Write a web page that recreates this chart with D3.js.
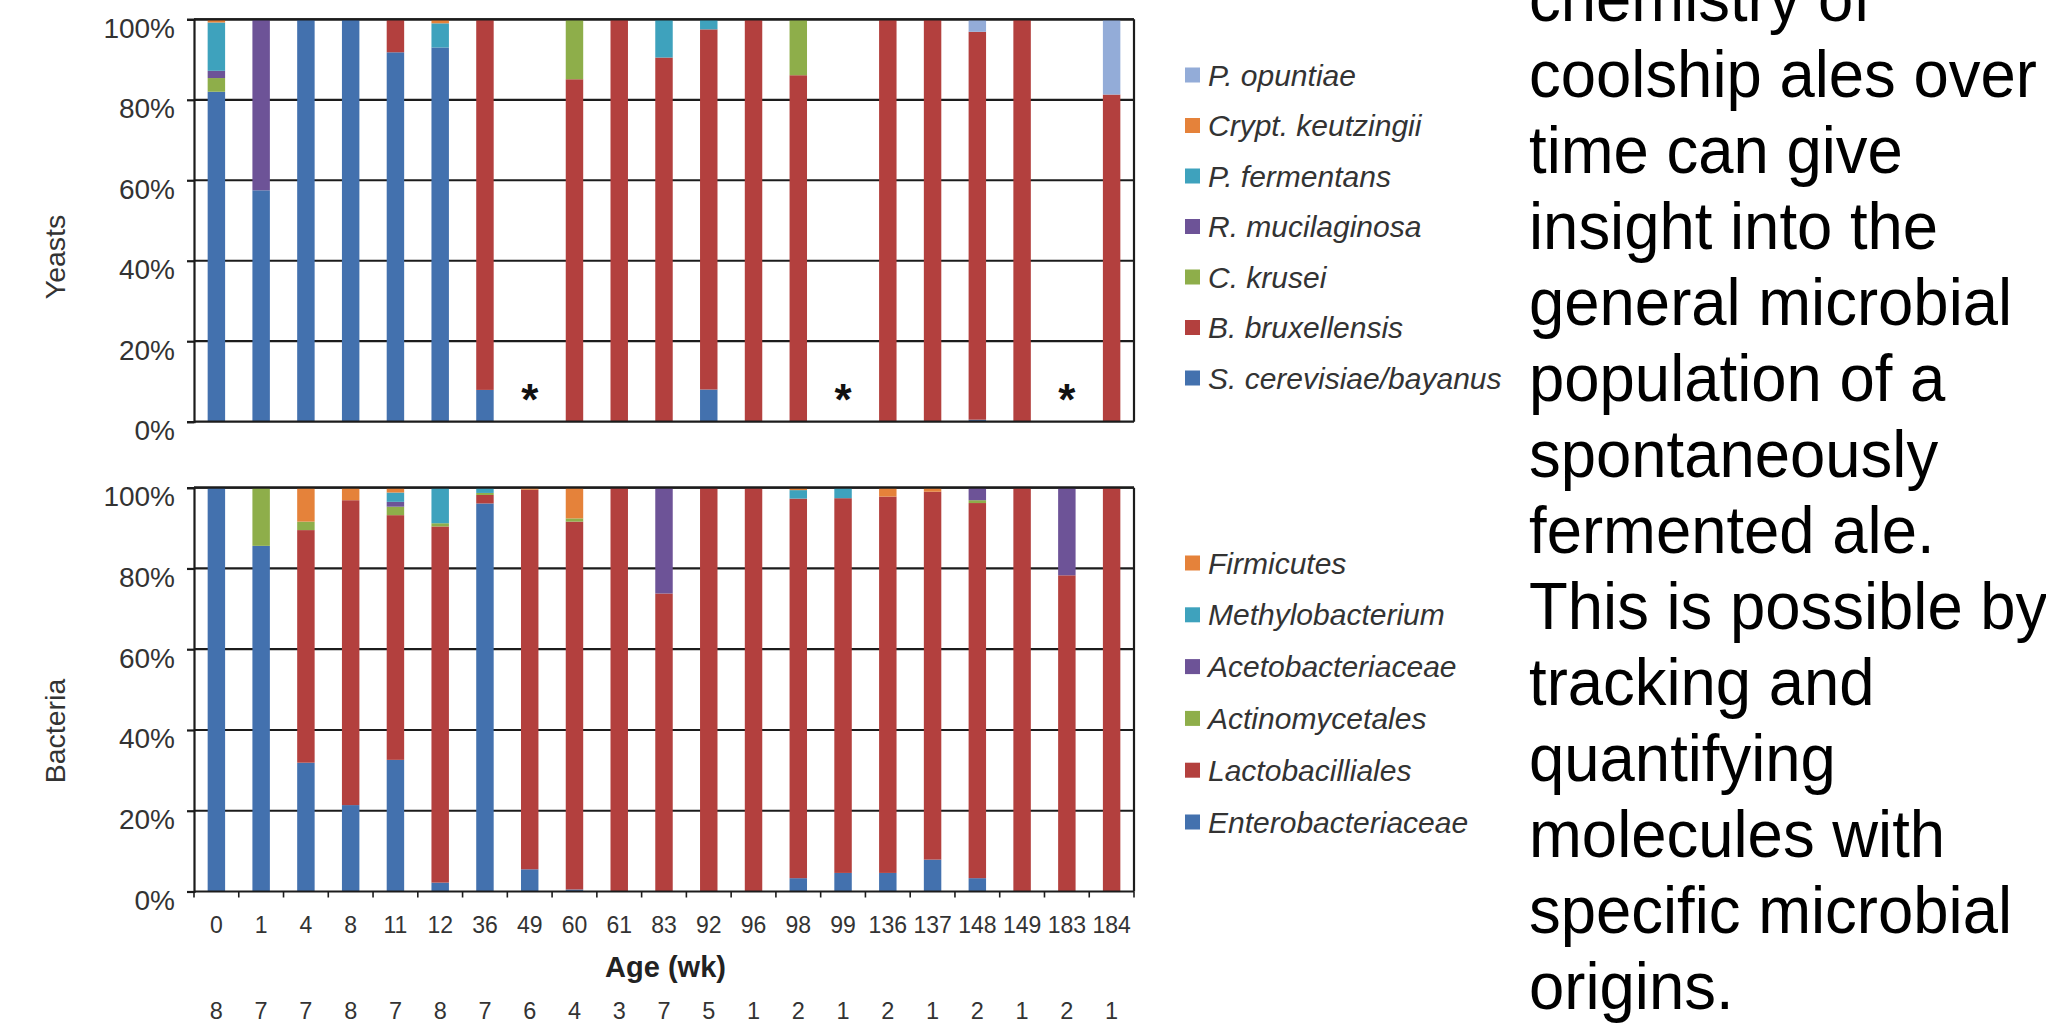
<!DOCTYPE html>
<html>
<head>
<meta charset="utf-8">
<script src="https://cdn.jsdelivr.net/npm/d3@7"></script>
<style>
  html, body { margin: 0; padding: 0; background: #ffffff; }
  svg { display: block; }
  text { font-family: "Liberation Sans", Arial, Helvetica, sans-serif; }
</style>
</head>
<body>
<script>
// ---------------- DATA ----------------
const ages = ["0","1","4","8","11","12","36","49","60","61","83","92","96","98","99","136","137","148","149","183","184"];
const sampleCounts = [8,7,7,8,7,8,7,6,4,3,7,5,1,2,1,2,1,2,1,2,1];
const missingYeast = ["49","99","183"];

// Yeasts (stack order bottom -> top)
const yeastSeries = ["S. cerevisiae/bayanus","B. bruxellensis","C. krusei","R. mucilaginosa","P. fermentans","Crypt. keutzingii","P. opuntiae"];
const yeastCerevisiae  = [82, 57.5, 100, 100, 91.8, 93, 7.9, 0, 0, 0, 0, 8, 0, 0, 0, 0, 0, 0.5, 0, 0, 0];
const yeastBruxellensis= [0, 0, 0, 0, 8.2, 0, 92.1, 0, 85.1, 100, 90.5, 89.5, 100, 86.1, 0, 100, 100, 96.4, 100, 0, 81.3];
const yeastKrusei      = [3.4, 0, 0, 0, 0, 0, 0, 0, 14.9, 0, 0, 0, 0, 13.9, 0, 0, 0, 0, 0, 0, 0];
const yeastMucilaginosa= [1.8, 42.5, 0, 0, 0, 0, 0, 0, 0, 0, 0, 0, 0, 0, 0, 0, 0, 0, 0, 0, 0];
const yeastFermentans  = [12, 0, 0, 0, 0, 6, 0, 0, 0, 0, 9.5, 2.5, 0, 0, 0, 0, 0, 0, 0, 0, 0];
const yeastKeutzingii  = [0.8, 0, 0, 0, 0, 1, 0, 0, 0, 0, 0, 0, 0, 0, 0, 0, 0, 0, 0, 0, 0];
const yeastOpuntiae    = [0, 0, 0, 0, 0, 0, 0, 0, 0, 0, 0, 0, 0, 0, 0, 0, 0, 3.1, 0, 0, 18.7];

// Bacteria (stack order bottom -> top)
const bacteriaSeries = ["Enterobacteriaceae","Lactobacilliales","Actinomycetales","Acetobacteriaceae","Methylobacterium","Firmicutes"];
const bactEntero  = [100, 85.6, 31.9, 21.4, 32.6, 2.2, 96.1, 5.5, 0.5, 0, 0, 0, 0, 3.3, 4.6, 4.6, 7.9, 3.3, 0, 0, 0];
const bactLacto   = [0, 0, 57.6, 75.5, 60.6, 88.2, 2.1, 94.0, 91.1, 100, 73.8, 100, 100, 94.0, 92.8, 93.2, 91.1, 92.9, 100, 78.3, 100];
const bactActino  = [0, 14.4, 2.1, 0, 2.1, 0.8, 0.5, 0, 0.8, 0, 0, 0, 0, 0, 0, 0, 0, 0.7, 0, 0, 0];
const bactAceto   = [0, 0, 0, 0, 1.2, 0, 0, 0, 0, 0, 26.2, 0, 0, 0, 0, 0, 0, 3.1, 0, 21.7, 0];
const bactMethylo = [0, 0, 0, 0, 2.3, 8.8, 1.3, 0, 0, 0, 0, 0, 0, 2.1, 2.6, 0, 0, 0, 0, 0, 0];
const bactFirmi   = [0, 0, 8.4, 3.1, 1.2, 0, 0, 0.5, 7.6, 0, 0, 0, 0, 0.6, 0, 2.2, 1.0, 0, 0, 0, 0];

const yTickValues = [0, 20, 40, 60, 80, 100];

const sideText = ["chemistry of","coolship ales over","time can give","insight into the","general microbial",
  "population of a","spontaneously","fermented ale.","This is possible by","tracking and","quantifying",
  "molecules with","specific microbial","origins."];

// ---------------- STYLE ----------------
const yeastColors    = ["#4371AE","#B3403E","#8EAE4A","#6D5397","#3EA2BD","#E5823A","#93ACD8"];
const bacteriaColors = ["#4371AE","#B3403E","#8EAE4A","#6D5397","#3EA2BD","#E5823A"];
const lineColor = "#1c1c1c";
const textColor = "#333333";

// ---------------- BUILD ----------------
const W = 2046, H = 1024;
const svg = d3.select("body").append("svg").attr("width", W).attr("height", H);
svg.append("rect").attr("width", W).attr("height", H).attr("fill", "#fff");

const left = 194, right = 1134;
const x = d3.scaleBand().domain(ages).range([left, right]).padding(0);
const barW = x.bandwidth() * 0.39;

const yeastRows = ages.map((a, i) => ({
  age: a,
  [yeastSeries[0]]: yeastCerevisiae[i], [yeastSeries[1]]: yeastBruxellensis[i],
  [yeastSeries[2]]: yeastKrusei[i], [yeastSeries[3]]: yeastMucilaginosa[i],
  [yeastSeries[4]]: yeastFermentans[i], [yeastSeries[5]]: yeastKeutzingii[i],
  [yeastSeries[6]]: yeastOpuntiae[i]
}));
const bactRows = ages.map((a, i) => ({
  age: a,
  [bacteriaSeries[0]]: bactEntero[i], [bacteriaSeries[1]]: bactLacto[i],
  [bacteriaSeries[2]]: bactActino[i], [bacteriaSeries[3]]: bactAceto[i],
  [bacteriaSeries[4]]: bactMethylo[i], [bacteriaSeries[5]]: bactFirmi[i]
}));

function panel(cfg) {
  const y = d3.scaleLinear().domain([0, 100]).range([cfg.bottom, cfg.top]);
  const g = svg.append("g");

  // grid lines
  g.append("g").selectAll("line").data(yTickValues.filter(d => d > 0)).join("line")
    .attr("x1", left).attr("x2", right)
    .attr("y1", d => y(d)).attr("y2", d => y(d))
    .attr("stroke", lineColor).attr("stroke-width", 2.2);

  // stacked bars
  const stacked = d3.stack().keys(cfg.keys)(cfg.rows);
  g.append("g").selectAll("g").data(stacked).join("g")
    .attr("fill", (d, i) => cfg.colors[i])
    .selectAll("rect").data(d => d.filter(s => s[1] - s[0] > 0)).join("rect")
    .attr("x", d => x(d.data.age) + (x.bandwidth() - barW) / 2)
    .attr("width", barW)
    .attr("y", d => y(d[1]))
    .attr("height", d => y(d[0]) - y(d[1]));

  // right border, bottom & top lines
  g.append("line").attr("x1", right).attr("x2", right).attr("y1", cfg.top).attr("y2", cfg.bottom)
    .attr("stroke", lineColor).attr("stroke-width", 2.2);
  g.append("line").attr("x1", left).attr("x2", right).attr("y1", y(0)).attr("y2", y(0))
    .attr("stroke", lineColor).attr("stroke-width", 2.2);
  g.append("line").attr("x1", left).attr("x2", right).attr("y1", y(100)).attr("y2", y(100))
    .attr("stroke", lineColor).attr("stroke-width", 2.2);

  // y axis
  const ax = g.append("g").attr("transform", `translate(${left},0)`)
    .call(d3.axisLeft(y).tickValues(yTickValues).tickFormat(d => d + "%").tickSize(7).tickPadding(12));
  ax.select(".domain").attr("stroke", lineColor).attr("stroke-width", 2.2);
  ax.selectAll(".tick line").attr("stroke", lineColor).attr("stroke-width", 2.2);
  ax.selectAll(".tick text").attr("font-size", 28).attr("fill", textColor)
    .attr("font-family", '"Liberation Sans", Arial, sans-serif').attr("y", 9);

  // y title
  svg.append("text").attr("transform", `translate(${cfg.labelX},${cfg.labelY}) rotate(-90)`)
    .attr("text-anchor", "middle").attr("dominant-baseline", "central")
    .attr("font-size", 28.5).attr("fill", textColor).text(cfg.title);

  // legend (reverse order, top to bottom)
  const items = cfg.keys.map((k, i) => ({ k, c: cfg.colors[i] })).reverse();
  const lg = svg.append("g");
  items.forEach((it, i) => {
    const cy = cfg.legendTop + i * cfg.legendStep;
    lg.append("rect").attr("x", 1185).attr("y", cy - 7.5).attr("width", 15).attr("height", 15).attr("fill", it.c);
    lg.append("text").attr("x", 1208).attr("y", cy + 10.5).attr("font-size", 30).attr("font-style", "italic")
      .attr("fill", textColor).text(it.k);
  });
  return y;
}

const yTop = panel({ rows: yeastRows, keys: yeastSeries, colors: yeastColors, top: 19.3, bottom: 421.7,
  title: "Yeasts", labelX: 55, labelY: 257, legendTop: 75, legendStep: 50.5 });
const yBot = panel({ rows: bactRows, keys: bacteriaSeries, colors: bacteriaColors, top: 487.7, bottom: 891.5,
  title: "Bacteria", labelX: 55, labelY: 731, legendTop: 563, legendStep: 51.8 });

// asterisks for missing yeast samples
svg.append("g").selectAll("text").data(missingYeast).join("text")
  .attr("x", d => x(d) + x.bandwidth() / 2).attr("y", 415)
  .attr("text-anchor", "middle").attr("font-size", 44).attr("font-weight", "bold")
  .attr("fill", "#111").text("*");

// bottom x axis labels + boundary ticks
const xb = svg.append("g").attr("transform", `translate(0,${yBot(0)})`)
  .call(d3.axisBottom(x).tickSize(0).tickPadding(25));
xb.select(".domain").remove();
xb.selectAll(".tick text").attr("font-size", 23).attr("fill", textColor)
  .attr("font-family", '"Liberation Sans", Arial, sans-serif');

svg.append("g").selectAll("line").data(ages.map(a => x(a)).concat([x.range()[1]])).join("line")
  .attr("x1", d => d).attr("x2", d => d).attr("y1", yBot(0)).attr("y2", yBot(0) + 6)
  .attr("stroke", lineColor).attr("stroke-width", 1.6);

svg.append("text").attr("x", 665.5).attr("y", 977).attr("text-anchor", "middle")
  .attr("font-size", 29).attr("font-weight", "bold").attr("fill", "#222").text("Age (wk)");

// sample counts
svg.append("g").selectAll("text").data(sampleCounts).join("text")
  .attr("x", (d, i) => x(ages[i]) + x.bandwidth() / 2).attr("y", 1019)
  .attr("text-anchor", "middle").attr("font-size", 23.5).attr("fill", textColor).text(d => d);

// side text (slightly condensed, as in the source slide)
svg.append("g").selectAll("text").data(sideText).join("text")
  .attr("transform", (d, i) => `translate(1529,${21 + i * 76})  scale(0.94,1)`)
  .attr("font-size", 67.5).attr("fill", "#000").text(d => d);
</script>
</body>
</html>
